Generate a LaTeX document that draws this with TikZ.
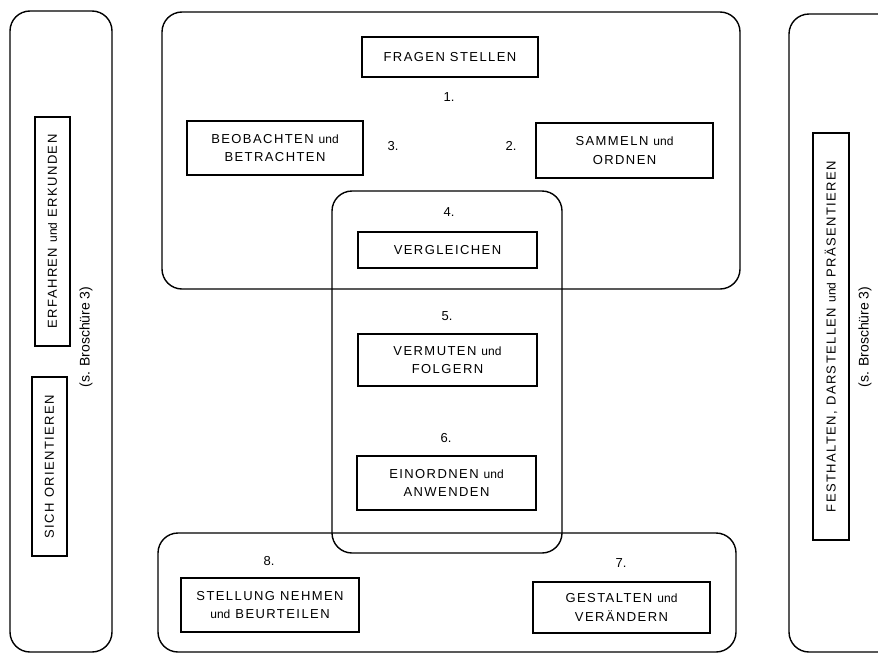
\documentclass[tikz,border=0pt]{standalone}
\usepackage{fontspec}
\setmainfont{Liberation Sans}
\newfontfamily\capsfont[LetterSpace=11]{Liberation Sans}
\newfontfamily\plainfont{Liberation Sans}
\newcommand\und{{\plainfont\fontsize{12}{13}\selectfont und}}
\begin{document}
\begin{tikzpicture}[x=1pt,y=-1pt,
  frame/.style={draw, line width=1.4pt, rounded corners=20pt, rectangle, inner sep=0pt},
  box/.style={draw, line width=1.1pt, rectangle, align=center, inner sep=0pt,
    font=\capsfont\fontsize{13}{18.5}\selectfont},
  num/.style={font=\plainfont\fontsize{13}{14}\selectfont, inner sep=0pt},
  note/.style={font=\plainfont\fontsize{14}{16}\selectfont, inner sep=0pt, rotate=90}]
\useasboundingbox (0,0) rectangle (878,656);
\clip (0,0) rectangle (878,656);
\fill[white] (0,0) rectangle (878,656);
% left frame
\node[frame, minimum width=102pt, minimum height=641pt] (leftframe) at (61,331.5) {};
\node[box, rotate=90, minimum width=229pt, minimum height=35pt] (erfahren) at (52.5,231.5) {ERFAHREN \und{} ERKUNDEN};
\node[box, rotate=90, minimum width=179pt, minimum height=35pt] (sich) at (49.5,466.5) {SICH ORIENTIEREN};
\node[note] (brosch1) at (86,337) {(s. Broschüre 3)};
% right frame
\node[frame, minimum width=116pt, minimum height=638pt] (rightframe) at (847,333) {};
\node[box, rotate=90, minimum width=407pt, minimum height=36pt] (festhalten) at (831,336.5) {FESTHALTEN, DARSTELLEN \und{} PRÄSENTIEREN};
\node[note] (brosch2) at (865,337) {(s. Broschüre 3)};
% top frame
\node[frame, minimum width=578pt, minimum height=277pt] (topframe) at (451,150.5) {};
\node[box, minimum width=176pt, minimum height=40pt] (fragen) at (450,57) {FRAGEN STELLEN};
\node[num] (n1) at (449,97) {1.};
\node[box, minimum width=176pt, minimum height=54pt] (beobachten) at (275,148) {BEOBACHTEN \und\\BETRACHTEN};
\node[num] (n3) at (393,146) {3.};
\node[num] (n2) at (511,146) {2.};
\node[box, minimum width=177pt, minimum height=55pt] (sammeln) at (624.5,150.5) {SAMMELN \und\\ORDNEN};
% middle frame
\node[frame, minimum width=230pt, minimum height=362pt] (midframe) at (447,372) {};
\node[num] (n4) at (449,212) {4.};
\node[box, minimum width=179pt, minimum height=36pt] (vergleichen) at (447.5,250) {VERGLEICHEN};
\node[num] (n5) at (447,316) {5.};
\node[box, minimum width=179pt, minimum height=52pt] (vermuten) at (447.5,360) {VERMUTEN \und\\FOLGERN};
\node[num] (n6) at (446,438) {6.};
\node[box, minimum width=179pt, minimum height=54pt] (einordnen) at (446.5,483) {EINORDNEN \und\\ANWENDEN};
% bottom frame
\node[frame, minimum width=578pt, minimum height=119pt] (botframe) at (447,592.5) {};
\node[num] (n8) at (269,561) {8.};
\node[num] (n7) at (621,563) {7.};
\node[box, minimum width=178pt, minimum height=54pt] (stellung) at (270,605) {STELLUNG NEHMEN\\\und{} BEURTEILEN};
\node[box, minimum width=177pt, minimum height=51pt] (gestalten) at (621.5,607.5) {GESTALTEN \und\\VERÄNDERN};
\end{tikzpicture}
\end{document}
